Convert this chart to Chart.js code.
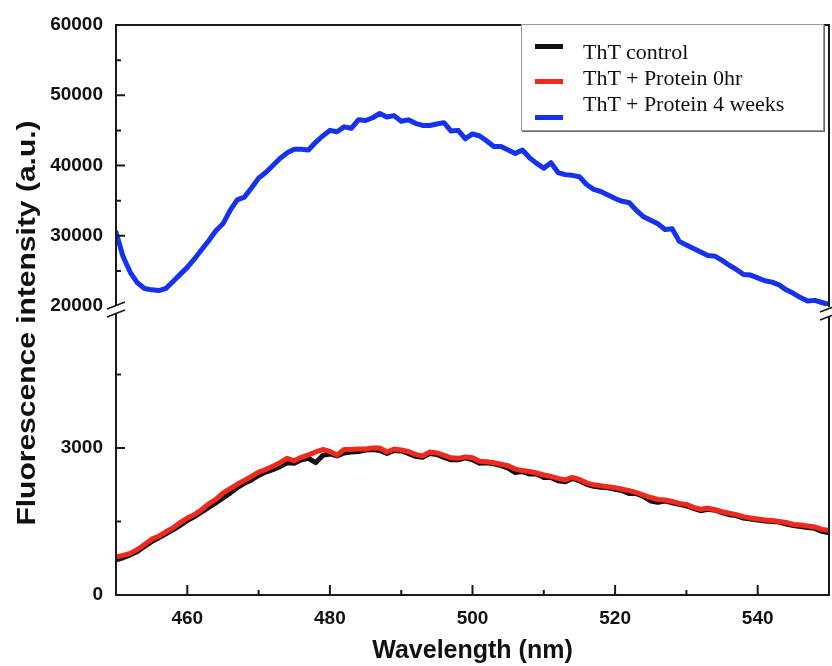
<!DOCTYPE html>
<html>
<head>
<meta charset="utf-8">
<script src="https://cdn.jsdelivr.net/npm/chart.js@4.4.0/dist/chart.umd.min.js"></script>
<style>
body{margin:0;background:#fff;}
#wrap{position:relative;width:832px;height:666px;}
#legend{position:absolute;left:521px;top:24px;width:301px;height:105px;border:1px solid #9a9a9a;box-shadow:1px 1px 0 #6a6a6a;background:#fff;
  font-family:"Liberation Serif","Times New Roman",serif;font-size:22px;color:#111;}
#legend .ln{position:absolute;left:13px;width:28px;height:5px;}
#legend .tx{position:absolute;left:61px;line-height:24px;white-space:nowrap;}
</style>
</head>
<body>
<div id="wrap">
  <canvas id="graphique" width="832" height="666"></canvas>
  <div id="legend">
    <span class="ln" style="top:19px;background:#111;"></span>
    <span class="tx" style="top:15px;">ThT control</span>
    <span class="ln" style="top:54px;background:#f0281e;"></span>
    <span class="tx" style="top:41px;">ThT + Protein 0hr</span>
    <span class="ln" style="top:90px;background:#1432f0;"></span>
    <span class="tx" style="top:67px;">ThT + Protein 4 weeks</span>
  </div>
</div>
<script>
// longueurs d'onde (nm), un point par nm
let wavelengths = [];
for (let w = 450; w <= 550; w++) wavelengths.push(w);

// ThT + Protein 4 weeks (axe du haut)
let proteine4sem = [
30500,27000,24800,23300,22500,22300,22200,22500,23500,24500,
25500,26700,28000,29300,30700,31700,33600,35100,35500,36800,
38200,39000,40000,41000,41800,42300,42300,42200,43300,44200,
45000,44800,45500,45300,46500,46400,46800,47400,46900,47100,
46300,46500,46000,45700,45700,45900,46100,44900,45000,43800,
44500,44200,43500,42700,42700,42200,41700,42200,41100,40300,
39600,40400,39000,38700,38600,38400,37300,36600,36300,35800,
35300,34900,34700,33600,32700,32200,31700,30900,31000,29200,
28700,28200,27700,27200,27100,26500,25800,25200,24500,24400,
24000,23600,23400,23000,22300,21800,21200,20700,20800,20500,
20200];

// ThT + Protein 0hr (axe du bas)
let proteine0h = [
780,810,850,930,1030,1140,1200,1290,1370,1480,
1570,1640,1740,1860,1950,2080,2170,2260,2340,2420,
2510,2560,2630,2700,2790,2740,2810,2860,2920,2970,
2930,2860,2970,2970,2980,2980,3000,3000,2920,2980,
2960,2930,2870,2840,2920,2900,2850,2800,2790,2820,
2800,2730,2720,2700,2670,2640,2570,2540,2520,2490,
2450,2420,2380,2350,2400,2360,2290,2250,2230,2210,
2190,2160,2130,2090,2040,1990,1950,1940,1910,1870,
1850,1790,1750,1770,1740,1700,1670,1640,1600,1570,
1550,1530,1520,1500,1480,1440,1430,1410,1390,1340,
1320];

// ThT control (axe du bas)
let controle = [
720,760,820,890,990,1090,1170,1250,1330,1420,
1520,1600,1690,1790,1880,1980,2080,2190,2280,2350,
2440,2510,2560,2620,2700,2690,2760,2790,2700,2850,
2880,2840,2900,2920,2930,2960,2970,2950,2890,2950,
2940,2890,2830,2810,2890,2870,2810,2760,2760,2800,
2760,2690,2700,2680,2640,2590,2500,2520,2470,2470,
2400,2400,2330,2310,2380,2330,2260,2220,2200,2190,
2160,2130,2070,2070,2010,1920,1890,1920,1880,1850,
1820,1770,1720,1750,1730,1680,1640,1620,1570,1550,
1530,1510,1500,1490,1450,1420,1400,1380,1360,1300,
1270];

// ticks (majeurs avec etiquette, mineurs sans)
let xTicks = [460, 470, 480, 490, 500, 510, 520, 530, 540];
let xTicksLabels = [460, 480, 500, 520, 540];
let yHautTicks = [20000, 25000, 30000, 35000, 40000, 45000, 50000, 55000, 60000];
let yHautLabels = [20000, 30000, 40000, 50000, 60000];
let yBasTicks = [0, 1500, 3000, 4500];
let yBasLabels = [0, 3000];

function pts(arr){ return arr.map((v, i) => ({x: wavelengths[i], y: v})); }
function fixeTicks(liste){ return sc => { sc.ticks = liste.map(v => ({value: v})); }; }
function etiquette(liste){ return v => liste.indexOf(Number(v)) >= 0 ? String(v) : ''; }

const policeTicks = {family: '"Liberation Sans", Arial, sans-serif', size: 19, weight: 'bold'};

// cadre, ticks vers l'interieur, coupure d'axe et titre vertical
const cadre = {
  id: 'cadre',
  afterDraw(chart){
    const ctx = chart.ctx, a = chart.chartArea, s = chart.scales;
    ctx.save();
    ctx.strokeStyle = '#1a1a1a';
    ctx.lineWidth = 2;
    ctx.beginPath();
    yHautTicks.forEach(v => {
      if (v <= 20000 || v >= 60000) return;
      const y = s.yHaut.getPixelForValue(v);
      const L = yHautLabels.includes(v) ? 9 : 5;
      ctx.moveTo(a.left, y); ctx.lineTo(a.left + L, y);
    });
    yBasTicks.forEach(v => {
      if (v <= 0) return;
      const y = s.yBas.getPixelForValue(v);
      const L = yBasLabels.includes(v) ? 9 : 5;
      ctx.moveTo(a.left, y); ctx.lineTo(a.left + L, y);
    });
    xTicks.forEach(v => {
      const x = s.x.getPixelForValue(v);
      const L = xTicksLabels.includes(v) ? 10 : 5;
      ctx.moveTo(x, a.bottom); ctx.lineTo(x, a.bottom - L);
    });
    ctx.stroke();

    // cadre avec coupure
    const yc = s.yHaut.bottom;
    ctx.beginPath();
    ctx.moveTo(a.left, yc - 1); ctx.lineTo(a.left, a.top); ctx.lineTo(a.right, a.top); ctx.lineTo(a.right, yc + 1);
    ctx.moveTo(a.left, yc + 7); ctx.lineTo(a.left, a.bottom); ctx.lineTo(a.right, a.bottom); ctx.lineTo(a.right, yc + 11);
    ctx.stroke();
    ctx.lineWidth = 1.6;
    ctx.beginPath();
    [[a.left, 0], [a.right, 3]].forEach(([x, d]) => {
      ctx.moveTo(x - 9, yc + 3 + d); ctx.lineTo(x + 9, yc - 4 + d);
      ctx.moveTo(x - 9, yc + 11 + d); ctx.lineTo(x + 9, yc + 4 + d);
    });
    ctx.stroke();

    // titre axe y
    ctx.fillStyle = '#111';
    ctx.font = 'bold 25px "Liberation Sans", Arial, sans-serif';
    ctx.textAlign = 'center';
    ctx.textBaseline = 'alphabetic';
    ctx.translate(35, 323);
    ctx.rotate(-Math.PI / 2);
    ctx.scale(1.2, 1);
    ctx.fillText('Fluorescence intensity (a.u.)', 0, 0);
    ctx.restore();
  }
};

function spectre(){
  var ctx = document.getElementById('graphique').getContext('2d');
  var graphique = new Chart(ctx, {
    type: 'line',
    data: {
      datasets: [{
        label: 'ThT + Protein 4 weeks',
        data: pts(proteine4sem),
        yAxisID: 'yHaut',
        borderColor: '#1432f0',
        borderWidth: 5,
        order: 0
      }, {
        label: 'ThT + Protein 0hr',
        data: pts(proteine0h),
        yAxisID: 'yBas',
        borderColor: '#f0281e',
        borderWidth: 5,
        order: 1
      }, {
        label: 'ThT control',
        data: pts(controle),
        yAxisID: 'yBas',
        borderColor: '#111111',
        borderWidth: 5,
        order: 2
      }]
    },
    options: {
      responsive: false,
      animation: false,
      devicePixelRatio: 1,
      layout: {padding: {top: 25, right: 3, left: 0, bottom: 0}},
      elements: {
        point: {radius: 0},
        line: {tension: 0, borderJoinStyle: 'round', borderCapStyle: 'round'}
      },
      plugins: {legend: {display: false}, tooltip: {enabled: false}},
      scales: {
        x: {
          type: 'linear', min: 450, max: 550,
          grid: {display: false}, border: {display: false},
          afterBuildTicks: fixeTicks(xTicks),
          ticks: {autoSkip: false, maxRotation: 0, padding: 4, color: '#111', font: policeTicks,
            callback: etiquette(xTicksLabels)},
          title: {display: true, text: 'Wavelength (nm)', color: '#111', padding: {top: 0, bottom: 0},
            font: {family: '"Liberation Sans", Arial, sans-serif', size: 25, weight: 'bold'}},
          afterFit: sc => { sc.height = 71; }
        },
        yBas: {
          type: 'linear', position: 'left', stack: 'y', stackWeight: 289,
          min: 0, max: 5900,
          grid: {display: false}, border: {display: false},
          afterBuildTicks: fixeTicks(yBasTicks),
          ticks: {autoSkip: false, padding: 5, color: '#111', font: policeTicks,
            callback: etiquette(yBasLabels)},
          afterFit: sc => { sc.width = 116; }
        },
        yHaut: {
          type: 'linear', position: 'left', stack: 'y', stackWeight: 281,
          min: 20000, max: 60000,
          grid: {display: false}, border: {display: false},
          afterBuildTicks: fixeTicks(yHautTicks),
          ticks: {autoSkip: false, padding: 5, color: '#111', font: policeTicks,
            callback: etiquette(yHautLabels)},
          afterFit: sc => { sc.width = 116; }
        }
      }
    },
    plugins: [cadre]
  });
}

spectre();
</script>
</body>
</html>
